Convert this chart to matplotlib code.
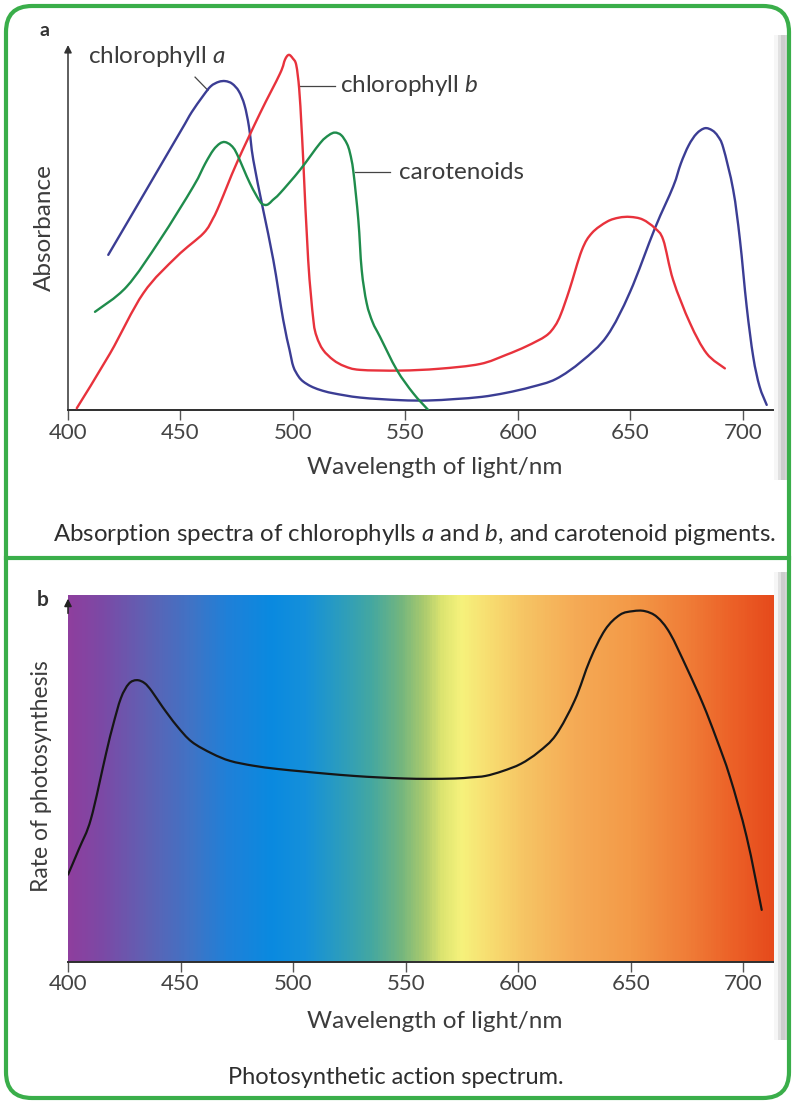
import numpy as np
import matplotlib
matplotlib.use("Agg")
import matplotlib.pyplot as plt
import matplotlib.colors as colors
from matplotlib.patches import FancyBboxPatch, PathPatch
from matplotlib.path import Path
from matplotlib.lines import Line2D

plt.rcParams['font.family'] = ['Lato', 'DejaVu Sans']
plt.rcParams['mathtext.fontset'] = 'custom'
plt.rcParams['mathtext.rm'] = 'Lato'
plt.rcParams['mathtext.it'] = 'Lato:italic'

#-------------------------------------------------------------------------------
# Datos (longitud de onda en nm, absorbancia relativa 0-100)
wl_chla = [417.9, 430, 440.9, 452, 455, 460, 463.5, 467, 470, 473, 476, 478.5, 480.5, 482.4,
           486.8, 491.3, 495.7, 498.5, 500.2, 502.5, 504.6, 508, 512.1, 517.8, 530, 547.6,
           560, 572.1, 584, 594.8, 606, 617.0, 628.5, 639.7, 649.9, 661.0, 669.1, 672.5, 676,
           679.5, 683.2, 686.5, 689, 691.4, 695.8, 698.8, 701.8, 704.7, 707.5, 710.7]
abs_chla = [42.5, 55.2, 66.7, 78.4, 81.6, 86.0, 88.7, 89.9, 90.1, 89.4, 87.3, 83.5, 77.5, 68.5,
            54.8, 41.1, 24.7, 16.5, 11.9, 9.2, 7.8, 6.5, 5.5, 4.6, 3.4, 2.7,
            2.6, 3.0, 3.6, 4.7, 6.3, 8.5, 13.4, 20.3, 32.3, 49.8, 61.2, 67.5, 72.5,
            75.7, 77.2, 76.6, 75.0, 71.8, 60.3, 46.6, 28.3, 14.6, 6.5, 1.4]

wl_chlb = [403.9, 418.7, 433.5, 448.3, 460.2, 464.5, 467.6, 475.0, 485.4, 494.3, 496.5,
           498.2, 500.0, 501.5, 502.8, 503.8, 504.6, 506.8, 509.1, 510.6, 513.4, 518.0,
           523, 529.8, 547.6, 565, 583.2, 594.8, 604, 612.5, 616.5, 619.2, 623, 628.5,
           633, 639.7, 645, 650, 655.5, 661.0, 664.7, 669.1, 676.6, 684.0, 692.1]
abs_chlb = [0.5, 15.5, 32.0, 42.0, 48.4, 52.5, 56.6, 67.6, 81.3, 92.2, 96.0,
            97.3, 96.3, 94.5, 88.0, 78.0, 68.5, 41.1, 24.7, 20.1, 16.5, 13.7,
            12.0, 11.0, 10.8, 11.3, 12.6, 15.1, 17.5, 20.3, 23.0, 26.3, 33.0, 43.8,
            48.5, 51.6, 52.7, 52.9, 52.2, 49.8, 46.6, 35.6, 23.8, 15.5, 11.4]

wl_car = [412.0, 426.1, 440.9, 455.7, 461, 464.6, 467.5, 469.8, 472.5, 475.0, 480.9,
          485.4, 487.5, 489.1, 491, 494.3, 503.2, 512.1, 516, 518.7, 521.5, 524, 525.4,
          526.9, 529.1, 530.6, 532.8, 535.5, 538.7, 546.2, 553.5, 560.2]
abs_car = [26.9, 33.8, 46.6, 61.2, 67.5, 71.2, 73.0, 73.4, 72.5, 70.3, 62.1,
           57.1, 56.2, 56.4, 57.5, 59.4, 65.8, 73.1, 75.3, 76.0, 75.3, 73.0, 70.4,
           65.3, 52.1, 38.4, 29.3, 24.0, 20.1, 11.0, 4.6, 0.0]

# Espectro de accion (tasa relativa de fotosintesis 0-100)
wl_accion = [400, 405, 410.2, 416.9, 420, 423.5, 427, 430.5, 434, 437.2, 442, 448.4, 455,
             464.0, 472, 482.2, 493, 504.6, 515, 527.1, 538, 549.5, 560, 571.9, 579, 585.5,
             593, 601.2, 609, 616.8, 625.2, 631.9, 638.6, 645.2, 651.0, 656.3, 661.7,
             667.4, 675, 682.1, 688, 694.1, 701.5, 708.2]
tasa_accion = [23.8, 31.0, 39.0, 56.8, 64.5, 71.9, 75.8, 76.8, 76.0, 73.8, 69.5, 64.3, 60.0,
               56.8, 54.8, 53.5, 52.6, 51.9, 51.3, 50.7, 50.3, 50.0, 49.9, 50.0, 50.3, 50.7,
               52.0, 54.0, 57.2, 61.9, 71.4, 82.3, 90.5, 94.6, 95.6, 95.6, 94.0,
               89.6, 80.0, 70.3, 61.0, 50.4, 34.1, 14.2]

ticks_nm = [400, 450, 500, 550, 600, 650, 700]

# Colores del espectro visible (nm, color)
espectro_nm = [400, 415, 435, 455, 470, 490, 505, 520, 535, 548, 558, 566, 575, 588,
               603, 625, 650, 675, 695, 714]
espectro_col = ['#8e3f9e', '#7b4aa6', '#5e62b4', '#3f74c6', '#2080d8', '#0a8ae0', '#1590da',
                '#2a9cc0', '#45a8a0', '#74b67e', '#aaca6e', '#dce470', '#f6f27c', '#f8dc70',
                '#f6c464', '#f5ab56', '#f39a48', '#f07e38', '#ec6228', '#e64a1c']

#-------------------------------------------------------------------------------
W, H = 793, 1102
fig = plt.figure(figsize=(W / 100, H / 100), dpi=100)
fig.patch.set_facecolor('white')

def fx(px):
    return px / W

def fy(py):
    return 1 - py / H

def curva(ax, x, y, color, lw):
    # traza suave (Bezier tipo Catmull-Rom) que pasa por los puntos leidos
    p = np.column_stack([x, y])
    n = len(p)
    verts = [p[0]]
    codes = [Path.MOVETO]
    for i in range(n - 1):
        p0 = p[i - 1] if i > 0 else p[i]
        p3 = p[i + 2] if i + 2 < n else p[i + 1]
        verts += [p[i] + (p[i + 1] - p0) / 6, p[i + 1] - (p3 - p[i]) / 6, p[i + 1]]
        codes += [Path.CURVE4] * 3
    ax.add_patch(PathPatch(Path(verts, codes), fill=False, edgecolor=color, lw=lw,
                           capstyle='round', joinstyle='round', zorder=3))

gris_txt = '#3c3c3c'
azul = '#3b3d94'
rojo = '#e8323c'
verde = '#1f8c4c'

#-------------------------------------------------------------------------------
# Panel a: espectros de absorcion
ax1 = fig.add_axes([fx(68), fy(410), fx(773) - fx(68), fy(45) - fy(410)])
curva(ax1, wl_chla, abs_chla, azul, 1.7)
curva(ax1, wl_chlb, abs_chlb, rojo, 1.7)
curva(ax1, wl_car, abs_car, verde, 1.7)
ax1.set_xlim(400, 713.5)
ax1.set_ylim(0, 100)

# lineas guia de las etiquetas
ax1.plot([456.5, 462.2], [91.2, 87.6], color='#444444', lw=0.9)
ax1.plot([503.0, 518.7], [88.8, 88.8], color='#444444', lw=0.9)
ax1.plot([527.6, 543.2], [65.2, 65.2], color='#444444', lw=0.9)
ax1.text(408.9, 95.0, 'chlorophyll $\\mathit{a}$', fontsize=17.5, color=gris_txt, va='baseline')
ax1.text(521.0, 88.8, 'chlorophyll $\\mathit{b}$', fontsize=17.5, color=gris_txt, va='center')
ax1.text(547.0, 65.2, 'carotenoids', fontsize=17.5, color=gris_txt, va='center')

#-------------------------------------------------------------------------------
# Panel b: espectro de accion sobre el arco iris
ax2 = fig.add_axes([fx(68), fy(962), fx(775) - fx(68), fy(595) - fy(962)])
pos = [(v - 400) / (714 - 400) for v in espectro_nm]
arcoiris = colors.LinearSegmentedColormap.from_list('arcoiris', list(zip(pos, espectro_col)))
ax2.imshow(np.linspace(0, 1, 600)[None, :], cmap=arcoiris, aspect='auto',
           extent=[400, 714.1, 0, 100], zorder=0)
curva(ax2, wl_accion, tasa_accion, '#161616', 1.6)
ax2.set_xlim(400, 714.1)
ax2.set_ylim(0, 100)

#-------------------------------------------------------------------------------
# Ejes comunes
for ax in (ax1, ax2):
    for s in ('top', 'right', 'left'):
        ax.spines[s].set_visible(False)
    ax.spines['bottom'].set_color('#2e2e2e')
    ax.spines['bottom'].set_linewidth(1.4)
    ax.set_yticks([])
    ax.set_xticks(ticks_nm)
    ax.set_xticklabels([str(t) for t in ticks_nm])
    ax.tick_params(axis='x', direction='out', length=7, width=1, color='#555555',
                   pad=2, labelsize=16, labelcolor='#444444')
    ax.set_facecolor('none')

ax1.annotate('', xy=(0, 1), xytext=(0, 0), xycoords='axes fraction',
             arrowprops=dict(arrowstyle='-|>', lw=1.1, color='#333333', mutation_scale=11,
                             shrinkA=0, shrinkB=0), annotation_clip=False)
ax2.annotate('', xy=(0, 0.99), xytext=(0, 0.95), xycoords='axes fraction',
             arrowprops=dict(arrowstyle='-|>', lw=1.1, color='#222222', mutation_scale=11,
                             shrinkA=0, shrinkB=0), annotation_clip=False)

# Textos de la figura
fig.text(fx(45), fy(30), 'a', fontsize=14, fontweight='bold', color='#333333', ha='center', va='center')
fig.text(fx(43), fy(600), 'b', fontsize=15, fontweight='bold', color='#333333', ha='center', va='center')
fig.text(fx(44), fy(228), 'Absorbance', fontsize=17.5, color=gris_txt, rotation=90, ha='center', va='center')
fig.text(fx(42), fy(776), 'Rate of photosynthesis', fontsize=16.5, color=gris_txt, rotation=90,
         ha='center', va='center')
fig.text(fx(435), fy(467), 'Wavelength of light/nm', fontsize=17.5, color=gris_txt, ha='center', va='center')
fig.text(fx(435), fy(1022), 'Wavelength of light/nm', fontsize=17.5, color=gris_txt, ha='center', va='center')
fig.text(fx(415), fy(535), 'Absorption spectra of chlorophylls $\\mathit{a}$ and $\\mathit{b}$, and carotenoid pigments.',
         fontsize=17.3, color='#2e2e2e', ha='center', va='center')
fig.text(fx(396), fy(1078), 'Photosynthetic action spectrum.', fontsize=17, color='#2e2e2e',
         ha='center', va='center')

#-------------------------------------------------------------------------------
# Sombra del pliegue de la pagina (escaneo) y marco verde
for y0, y1 in ((35, 480), (572, 1040)):
    sombra = fig.add_axes([fx(774), fy(y1), fx(789) - fx(774), fy(y0) - fy(y1)])
    sombra.imshow(np.array([[0.0, 0.5, 1.0, 0.8]]), cmap=colors.LinearSegmentedColormap.from_list(
        'sombra', ['#f6f6f6', '#cdcdcd']), aspect='auto', vmin=0, vmax=1)
    sombra.axis('off')

marco = FancyBboxPatch((6 / 100, (H - 1098) / 100), (789 - 6) / 100, (1098 - 6) / 100,
                       boxstyle='round,pad=0,rounding_size=0.26', transform=fig.dpi_scale_trans,
                       facecolor='none', edgecolor='#3aae4a', lw=3.0, zorder=10)
fig.patches.append(marco)
fig.add_artist(Line2D([fx(6), fx(789)], [fy(558), fy(558)], color='#3aae4a', lw=3.0, zorder=10))

plt.savefig('out.png', dpi=100)
